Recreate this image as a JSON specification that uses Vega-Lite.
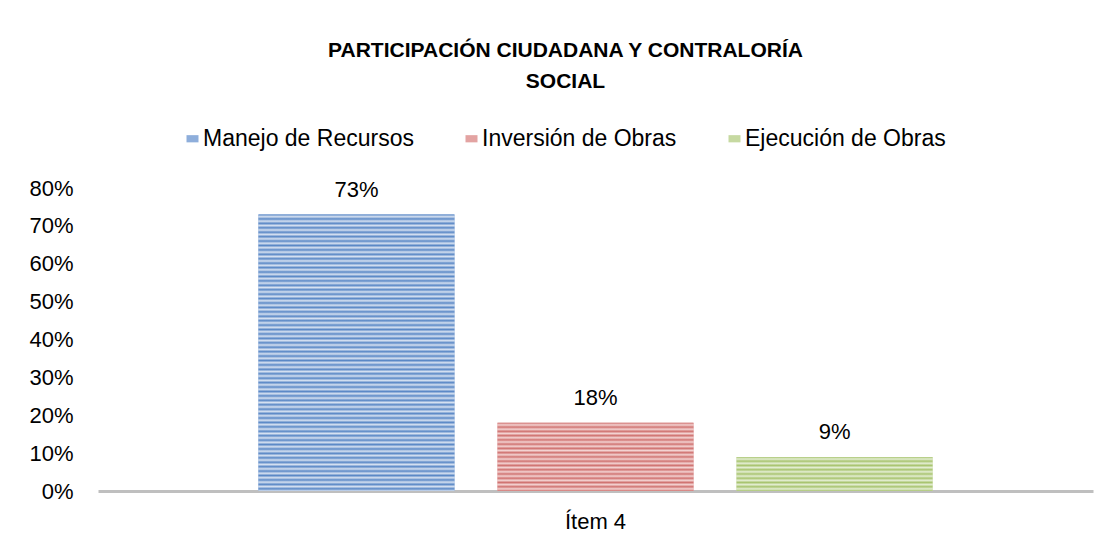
{
  "$schema": "https://vega.github.io/schema/vega-lite/v6.json",
  "width": 995,
  "height": 303,
  "autosize": {"type": "pad"},
  "padding": {"left": 28, "top": 40, "right": 15, "bottom": 5},
  "background": "white",
  "config": {
    "view": {"stroke": null},
    "font": "Liberation Sans"
  },
  "title": {
    "text": ["PARTICIPACIÓN CIUDADANA Y CONTRALORÍA", "SOCIAL"],
    "font": "Liberation Sans",
    "fontSize": 21,
    "fontWeight": "bold",
    "color": "#000000",
    "lineHeight": 31,
    "anchor": "middle",
    "frame": "group",
    "dx": -30,
    "offset": 35
  },
  "data": {
    "values": [
      {"item": "Ítem 4", "serie": "Manejo de Recursos", "valor": 0.73},
      {"item": "Ítem 4", "serie": "Inversión de Obras", "valor": 0.18},
      {"item": "Ítem 4", "serie": "Ejecución de Obras", "valor": 0.09}
    ]
  },
  "encoding": {
    "x": {
      "field": "item",
      "type": "nominal",
      "scale": {"paddingInner": 0, "paddingOuter": 0.238},
      "axis": {
        "title": null,
        "labelAngle": 0,
        "labelFontSize": 22,
        "labelColor": "#000000",
        "labelFont": "Liberation Sans",
        "labelPadding": 20,
        "ticks": false,
        "domainColor": "#bfbfbf",
        "domainWidth": 3
      }
    },
    "xOffset": {
      "field": "serie",
      "type": "nominal",
      "sort": ["Manejo de Recursos", "Inversión de Obras", "Ejecución de Obras"],
      "scale": {"paddingInner": 0.18, "paddingOuter": 0}
    },
    "y": {
      "field": "valor",
      "type": "quantitative",
      "scale": {"domain": [0, 0.8]},
      "axis": {
        "title": null,
        "values": [0, 0.1, 0.2, 0.3, 0.4, 0.5, 0.6, 0.7, 0.8],
        "format": ".0%",
        "grid": false,
        "domain": false,
        "ticks": false,
        "labelFontSize": 22,
        "labelColor": "#000000",
        "labelFont": "Liberation Sans",
        "labelPadding": 25
      }
    }
  },
  "layer": [
    {
      "mark": {"type": "bar"},
      "encoding": {
        "color": {
          "field": "serie",
          "type": "nominal",
          "scale": {
            "domain": ["Manejo de Recursos", "Inversión de Obras", "Ejecución de Obras"],
            "range": ["#8eaedb", "#e3a3a2", "#c6d9a1"]
          },
          "legend": {
            "title": null,
            "orient": "none",
            "direction": "horizontal",
            "columns": 3,
            "legendX": 83,
            "legendY": -61,
            "labelFontSize": 23,
            "labelColor": "#000000",
            "labelFont": "Liberation Sans",
            "labelLimit": 400,
            "labelOffset": -1,
            "columnPadding": 46,
            "symbolType": "M-1,-0.6H1V0.6H-1Z",
            "symbolSize": 144,
            "symbolStrokeWidth": 0
          }
        }
      }
    },
    {
      "mark": {"type": "bar"},
      "encoding": {
        "fill": {
          "condition": [
            {
              "test": "datum.serie === 'Manejo de Recursos'",
              "value": {
                "gradient": "linear", "x1": 0, "y1": 0, "x2": 0, "y2": 1,
                "stops": [
                  {"offset": 0, "color": "#5a88c6"}, {"offset": 0.008, "color": "#d6e1f1"}, {"offset": 0.016, "color": "#5a88c6"}, {"offset": 0.024, "color": "#d6e1f1"}, {"offset": 0.032, "color": "#5a88c6"}, {"offset": 0.04, "color": "#d6e1f1"}, {"offset": 0.048, "color": "#5a88c6"}, {"offset": 0.056, "color": "#d6e1f1"}, {"offset": 0.064, "color": "#5a88c6"}, {"offset": 0.072, "color": "#d6e1f1"},
                  {"offset": 0.08, "color": "#5a88c6"}, {"offset": 0.088, "color": "#d6e1f1"}, {"offset": 0.096, "color": "#5a88c6"}, {"offset": 0.104, "color": "#d6e1f1"}, {"offset": 0.112, "color": "#5a88c6"}, {"offset": 0.12, "color": "#d6e1f1"}, {"offset": 0.128, "color": "#5a88c6"}, {"offset": 0.136, "color": "#d6e1f1"}, {"offset": 0.144, "color": "#5a88c6"}, {"offset": 0.152, "color": "#d6e1f1"},
                  {"offset": 0.16, "color": "#5a88c6"}, {"offset": 0.168, "color": "#d6e1f1"}, {"offset": 0.176, "color": "#5a88c6"}, {"offset": 0.184, "color": "#d6e1f1"}, {"offset": 0.192, "color": "#5a88c6"}, {"offset": 0.2, "color": "#d6e1f1"}, {"offset": 0.208, "color": "#5a88c6"}, {"offset": 0.216, "color": "#d6e1f1"}, {"offset": 0.224, "color": "#5a88c6"}, {"offset": 0.232, "color": "#d6e1f1"},
                  {"offset": 0.24, "color": "#5a88c6"}, {"offset": 0.248, "color": "#d6e1f1"}, {"offset": 0.256, "color": "#5a88c6"}, {"offset": 0.264, "color": "#d6e1f1"}, {"offset": 0.272, "color": "#5a88c6"}, {"offset": 0.28, "color": "#d6e1f1"}, {"offset": 0.288, "color": "#5a88c6"}, {"offset": 0.296, "color": "#d6e1f1"}, {"offset": 0.304, "color": "#5a88c6"}, {"offset": 0.312, "color": "#d6e1f1"},
                  {"offset": 0.32, "color": "#5a88c6"}, {"offset": 0.328, "color": "#d6e1f1"}, {"offset": 0.336, "color": "#5a88c6"}, {"offset": 0.344, "color": "#d6e1f1"}, {"offset": 0.352, "color": "#5a88c6"}, {"offset": 0.36, "color": "#d6e1f1"}, {"offset": 0.368, "color": "#5a88c6"}, {"offset": 0.376, "color": "#d6e1f1"}, {"offset": 0.384, "color": "#5a88c6"}, {"offset": 0.392, "color": "#d6e1f1"},
                  {"offset": 0.4, "color": "#5a88c6"}, {"offset": 0.408, "color": "#d6e1f1"}, {"offset": 0.416, "color": "#5a88c6"}, {"offset": 0.424, "color": "#d6e1f1"}, {"offset": 0.432, "color": "#5a88c6"}, {"offset": 0.44, "color": "#d6e1f1"}, {"offset": 0.448, "color": "#5a88c6"}, {"offset": 0.456, "color": "#d6e1f1"}, {"offset": 0.464, "color": "#5a88c6"}, {"offset": 0.472, "color": "#d6e1f1"},
                  {"offset": 0.48, "color": "#5a88c6"}, {"offset": 0.488, "color": "#d6e1f1"}, {"offset": 0.496, "color": "#5a88c6"}, {"offset": 0.504, "color": "#d6e1f1"}, {"offset": 0.512, "color": "#5a88c6"}, {"offset": 0.52, "color": "#d6e1f1"}, {"offset": 0.528, "color": "#5a88c6"}, {"offset": 0.536, "color": "#d6e1f1"}, {"offset": 0.544, "color": "#5a88c6"}, {"offset": 0.552, "color": "#d6e1f1"},
                  {"offset": 0.56, "color": "#5a88c6"}, {"offset": 0.568, "color": "#d6e1f1"}, {"offset": 0.576, "color": "#5a88c6"}, {"offset": 0.584, "color": "#d6e1f1"}, {"offset": 0.592, "color": "#5a88c6"}, {"offset": 0.6, "color": "#d6e1f1"}, {"offset": 0.608, "color": "#5a88c6"}, {"offset": 0.616, "color": "#d6e1f1"}, {"offset": 0.624, "color": "#5a88c6"}, {"offset": 0.632, "color": "#d6e1f1"},
                  {"offset": 0.64, "color": "#5a88c6"}, {"offset": 0.648, "color": "#d6e1f1"}, {"offset": 0.656, "color": "#5a88c6"}, {"offset": 0.664, "color": "#d6e1f1"}, {"offset": 0.672, "color": "#5a88c6"}, {"offset": 0.68, "color": "#d6e1f1"}, {"offset": 0.688, "color": "#5a88c6"}, {"offset": 0.696, "color": "#d6e1f1"}, {"offset": 0.704, "color": "#5a88c6"}, {"offset": 0.712, "color": "#d6e1f1"},
                  {"offset": 0.72, "color": "#5a88c6"}, {"offset": 0.728, "color": "#d6e1f1"}, {"offset": 0.736, "color": "#5a88c6"}, {"offset": 0.744, "color": "#d6e1f1"}, {"offset": 0.752, "color": "#5a88c6"}, {"offset": 0.76, "color": "#d6e1f1"}, {"offset": 0.768, "color": "#5a88c6"}, {"offset": 0.776, "color": "#d6e1f1"}, {"offset": 0.784, "color": "#5a88c6"}, {"offset": 0.792, "color": "#d6e1f1"},
                  {"offset": 0.8, "color": "#5a88c6"}, {"offset": 0.808, "color": "#d6e1f1"}, {"offset": 0.816, "color": "#5a88c6"}, {"offset": 0.824, "color": "#d6e1f1"}, {"offset": 0.832, "color": "#5a88c6"}, {"offset": 0.84, "color": "#d6e1f1"}, {"offset": 0.848, "color": "#5a88c6"}, {"offset": 0.856, "color": "#d6e1f1"}, {"offset": 0.864, "color": "#5a88c6"}, {"offset": 0.872, "color": "#d6e1f1"},
                  {"offset": 0.88, "color": "#5a88c6"}, {"offset": 0.888, "color": "#d6e1f1"}, {"offset": 0.896, "color": "#5a88c6"}, {"offset": 0.904, "color": "#d6e1f1"}, {"offset": 0.912, "color": "#5a88c6"}, {"offset": 0.92, "color": "#d6e1f1"}, {"offset": 0.928, "color": "#5a88c6"}, {"offset": 0.936, "color": "#d6e1f1"}, {"offset": 0.944, "color": "#5a88c6"}, {"offset": 0.952, "color": "#d6e1f1"},
                  {"offset": 0.96, "color": "#5a88c6"}, {"offset": 0.968, "color": "#d6e1f1"}, {"offset": 0.976, "color": "#5a88c6"}, {"offset": 0.984, "color": "#d6e1f1"}, {"offset": 0.992, "color": "#5a88c6"}, {"offset": 1, "color": "#d6e1f1"}
                ]
              }
            },
            {
              "test": "datum.serie === 'Inversión de Obras'",
              "value": {
                "gradient": "linear", "x1": 0, "y1": 0, "x2": 0, "y2": 1,
                "stops": [
                  {"offset": 0, "color": "#d07371"}, {"offset": 0.03125, "color": "#f3d3d2"}, {"offset": 0.0625, "color": "#d07371"}, {"offset": 0.09375, "color": "#f3d3d2"},
                  {"offset": 0.125, "color": "#d07371"}, {"offset": 0.15625, "color": "#f3d3d2"}, {"offset": 0.1875, "color": "#d07371"}, {"offset": 0.21875, "color": "#f3d3d2"},
                  {"offset": 0.25, "color": "#d07371"}, {"offset": 0.28125, "color": "#f3d3d2"}, {"offset": 0.3125, "color": "#d07371"}, {"offset": 0.34375, "color": "#f3d3d2"},
                  {"offset": 0.375, "color": "#d07371"}, {"offset": 0.40625, "color": "#f3d3d2"}, {"offset": 0.4375, "color": "#d07371"}, {"offset": 0.46875, "color": "#f3d3d2"},
                  {"offset": 0.5, "color": "#d07371"}, {"offset": 0.53125, "color": "#f3d3d2"}, {"offset": 0.5625, "color": "#d07371"}, {"offset": 0.59375, "color": "#f3d3d2"},
                  {"offset": 0.625, "color": "#d07371"}, {"offset": 0.65625, "color": "#f3d3d2"}, {"offset": 0.6875, "color": "#d07371"}, {"offset": 0.71875, "color": "#f3d3d2"},
                  {"offset": 0.75, "color": "#d07371"}, {"offset": 0.78125, "color": "#f3d3d2"}, {"offset": 0.8125, "color": "#d07371"}, {"offset": 0.84375, "color": "#f3d3d2"},
                  {"offset": 0.875, "color": "#d07371"}, {"offset": 0.90625, "color": "#f3d3d2"}, {"offset": 0.9375, "color": "#d07371"}, {"offset": 0.96875, "color": "#f3d3d2"},
                  {"offset": 1, "color": "#d07371"}
                ]
              }
            }
          ],
          "value": {
            "gradient": "linear", "x1": 0, "y1": 0, "x2": 0, "y2": 1,
            "stops": [
              {"offset": 0, "color": "#a8c46f"}, {"offset": 0.0625, "color": "#e4eed3"}, {"offset": 0.125, "color": "#a8c46f"}, {"offset": 0.1875, "color": "#e4eed3"},
              {"offset": 0.25, "color": "#a8c46f"}, {"offset": 0.3125, "color": "#e4eed3"}, {"offset": 0.375, "color": "#a8c46f"}, {"offset": 0.4375, "color": "#e4eed3"},
              {"offset": 0.5, "color": "#a8c46f"}, {"offset": 0.5625, "color": "#e4eed3"}, {"offset": 0.625, "color": "#a8c46f"}, {"offset": 0.6875, "color": "#e4eed3"},
              {"offset": 0.75, "color": "#a8c46f"}, {"offset": 0.8125, "color": "#e4eed3"}, {"offset": 0.875, "color": "#a8c46f"}, {"offset": 0.9375, "color": "#e4eed3"},
              {"offset": 1, "color": "#a8c46f"}
            ]
          }
        }
      }
    },
    {
      "mark": {
        "type": "text",
        "baseline": "alphabetic",
        "dy": -18,
        "fontSize": 22,
        "font": "Liberation Sans",
        "color": "#000000"
      },
      "encoding": {
        "text": {"field": "valor", "type": "quantitative", "format": ".0%"}
      }
    }
  ]
}
